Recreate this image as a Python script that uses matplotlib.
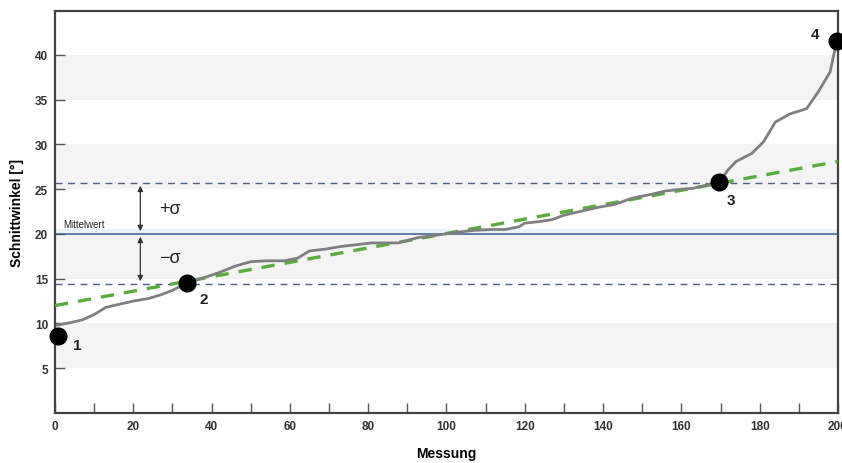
import matplotlib
matplotlib.use('Agg')
import numpy as np
import matplotlib.pyplot as plt

messung = [0.5, 4, 7, 10, 13, 17, 20, 24, 27, 30, 33.6, 38, 42, 46, 50, 54, 58.5, 62,
           65, 69, 73, 77, 81, 87.7, 92.8, 98, 103, 107, 111.5, 115, 118.5, 120, 124,
           127, 130, 134, 139, 143, 147.4, 152, 156, 160, 163, 166, 169.7,
           172, 174, 178, 181, 184, 187.7, 192, 195, 198, 199.7]
winkel = [9.8, 10.1, 10.4, 11.0, 11.8, 12.2, 12.5, 12.8, 13.2, 13.7, 14.5, 15.1, 15.7,
          16.4, 16.9, 17.0, 17.0, 17.3, 18.1, 18.3, 18.6, 18.8, 19.0, 19.0, 19.6, 19.9,
          20.2, 20.4, 20.5, 20.5, 20.8, 21.2, 21.4, 21.6, 22.1, 22.5, 23.0, 23.3, 24.0,
          24.4, 24.8, 25.0, 25.1, 25.4, 25.8,
          27.2, 28.1, 29.0, 30.3, 32.5, 33.4, 34.0, 35.9, 38.1, 41.6]

mittelwert = 20.0
sigma_oben = 25.7
sigma_unten = 14.4
trend_x = [0, 200]
trend_y = [12.0, 28.1]

punkt_x = [0.8, 33.6, 169.7, 199.7]
punkt_y = [8.55, 14.55, 25.8, 41.6]
punkt_lbl = ['1', '2', '3', '4']
lbl_pos = [(4.5, 7.2), (37, 12.3), (171.5, 23.4), (193, 41.9)]

plt.rcParams['font.family'] = ['Liberation Sans', 'DejaVu Sans']

fig = plt.figure(figsize=(8.42, 4.64), dpi=100)
ax = fig.add_axes([0.0653, 0.1078, 0.9299, 0.8662])

for lo in [5, 15, 25, 35]:
    ax.axhspan(lo, lo + 5, color='#f4f4f4', lw=0, zorder=0)
ax.axhspan(20, 20.6, color='#e9f3fa', lw=0, zorder=0)

ax.axhline(mittelwert, color='#3d5f8c', lw=1.1, zorder=2)
ax.axhline(sigma_oben, color='#4f5f80', lw=1.0, ls=(0, (5, 4)), zorder=2)
ax.axhline(sigma_unten, color='#4f5f80', lw=1.0, ls=(0, (5, 4)), zorder=2)

ax.plot(trend_x, trend_y, color='#5aad3c', lw=2.4, ls=(0, (4, 3)), zorder=3)
ax.plot(messung, winkel, color='#7f7f7f', lw=2.0, zorder=4,
        solid_joinstyle='round', solid_capstyle='round')
ax.plot(punkt_x, punkt_y, 'o', color='black', ms=12, zorder=5, clip_on=False)
for (tx, ty), t in zip(lbl_pos, punkt_lbl):
    ax.text(tx, ty, t, fontsize=11, fontweight='bold', color='#222222', zorder=6)

# sigma arrows
ax.annotate('', xy=(21.8, sigma_oben), xytext=(21.8, mittelwert),
            arrowprops=dict(arrowstyle='<|-|>', color='#333333', lw=0.9, mutation_scale=8))
ax.annotate('', xy=(21.8, sigma_unten), xytext=(21.8, mittelwert),
            arrowprops=dict(arrowstyle='<|-|>', color='#333333', lw=0.9, mutation_scale=8))
ax.text(26.5, 22.8, '+σ', fontsize=13, color='#222222', va='center')
ax.text(26.5, 17.4, '−σ', fontsize=13, color='#222222', va='center')
ax.text(2.0, 20.5, 'Mittelwert', fontsize=7, color='#222222', va='bottom')

ax.set_xlim(0, 200)
ax.set_ylim(0, 44.9)
ax.set_xticks(np.arange(0, 201, 10))
ax.set_xticklabels([str(v) if v % 20 == 0 else '' for v in range(0, 201, 10)])
ax.set_yticks([5, 10, 15, 20, 25, 30, 35, 40])
ax.tick_params(direction='in', length=7, width=1, color='#555555', labelsize=8.5,
               labelcolor='#333333', pad=5)
for lab in ax.get_xticklabels() + ax.get_yticklabels():
    lab.set_fontweight('bold')
for s in ax.spines.values():
    s.set_linewidth(1.6)
    s.set_color('#444444')

ax.set_xlabel('Messung', fontsize=10, fontweight='bold', labelpad=10)
ax.set_ylabel('Schnittwinkel [°]', fontsize=10, fontweight='bold', labelpad=8)

fig.savefig('out.png', dpi=100)
